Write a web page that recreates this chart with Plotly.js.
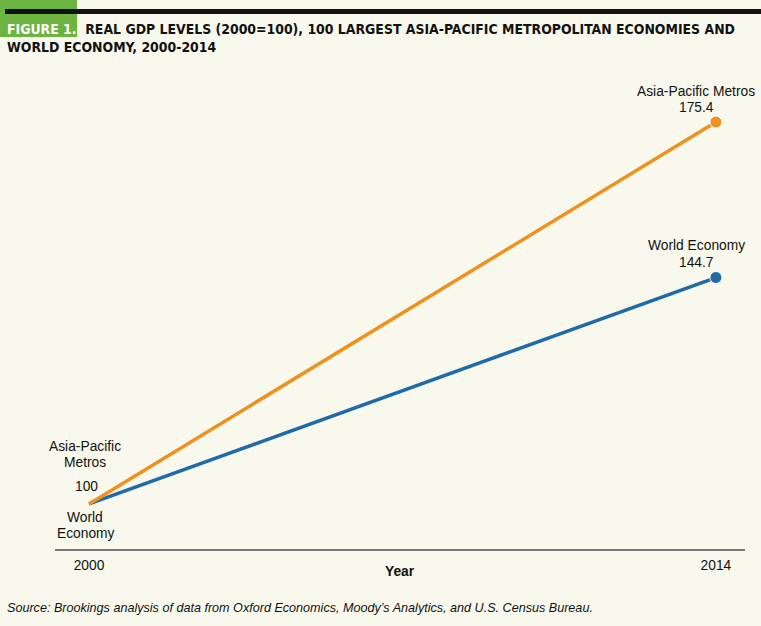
<!DOCTYPE html>
<html><head><meta charset="utf-8">
<script src="https://cdn.plot.ly/plotly-3.0.1.min.js"></script>
<style>body{margin:0;background:#f8f9ec}</style>
</head><body>
<div id="chart" style="width:761px;height:626px"></div>
<script>
const years = [2000, 2014];
const asiaPacific = [100, 175.4];
const world = [100, 144.7];
const tickVals = [2000, 2014];
const tickText = ["2000", "2014"];

const W = 761, H = 626, M = {l:55, r:16, t:80, b:77};
const pw = W - M.l - M.r, ph = H - M.t - M.b;
const px = x => (x - M.l) / pw;
const py = y => (H - M.b - y) / ph;
const bg = '#f8f9ec';
const orange = '#f0901e', blue = '#1f6aa8';

const traces = [
  {x: years, y: world, mode: 'lines+markers', line:{color: blue, width:3.5},
   marker:{size:[0,12], color: blue, opacity:1}, hoverinfo:'skip', cliponaxis:false},
  {x: years, y: asiaPacific, mode: 'lines+markers', line:{color: orange, width:3.5},
   marker:{size:[0,12], color: orange, opacity:1}, hoverinfo:'skip', cliponaxis:false}
];

const fnt = {family:'Liberation Sans, Arial, sans-serif', size:13.8, color:'#111'};
const ann = (x, y, text, extra) => Object.assign({xref:'paper', yref:'paper', x:px(x), y:py(y), text, showarrow:false,
  xanchor:'center', yanchor:'middle', font:fnt}, extra || {});
const tfont = {family:'DejaVu Sans Condensed, Liberation Sans Narrow, sans-serif', size:13.9, weight:700, color:'#111'};

const layout = {
  width: W, height: H, margin: M,
  paper_bgcolor: bg, plot_bgcolor: bg,
  showlegend: false,
  xaxis: {range:[1999.24, 2014.65], tickvals: tickVals, ticktext: tickText, showgrid:false, zeroline:false,
    showline:true, linecolor:'#777', linewidth:2, ticks:'', tickfont:fnt, ticklabelstandoff:2},
  yaxis: {range:[91.1, 183.7], showgrid:false, zeroline:false, showticklabels:false, showline:false},
  shapes: [
    {type:'rect', xref:'paper', yref:'paper', x0:px(0), x1:px(77), y0:py(37), y1:py(0),
     fillcolor:'#6cb33f', line:{width:0}, layer:'below'},
    {type:'rect', xref:'paper', yref:'paper', x0:px(5), x1:px(761), y0:py(14), y1:py(9),
     fillcolor:'#111', line:{width:0}}
  ],
  annotations: [
    ann(5, 29, "<span style='color:#ffffff'>FIGURE 1.</span>  REAL GDP LEVELS (2000=100), 100 LARGEST ASIA-PACIFIC METROPOLITAN ECONOMIES AND", {xanchor:'left', font:tfont}),
    ann(5, 47, "WORLD ECONOMY, 2000-2014", {xanchor:'left', font:tfont}),
    ann(696, 91, 'Asia-Pacific Metros'),
    ann(696, 108, '175.4'),
    ann(696, 245, 'World Economy'),
    ann(696, 262, '144.7'),
    ann(85, 446, 'Asia-Pacific'),
    ann(85, 462, 'Metros'),
    ann(86, 486, '100'),
    ann(85, 517, 'World'),
    ann(86, 533, 'Economy'),
    ann(400, 571, '<b>Year</b>'),
    ann(5, 608, '<i>Source: Brookings analysis of data from Oxford Economics, Moody’s Analytics, and U.S. Census Bureau.</i>',
      {xanchor:'left', font:{family:'Liberation Sans, Arial, sans-serif', size:12.6, color:'#111'}})
  ]
};

Plotly.newPlot('chart', traces, layout, {displayModeBar:false, staticPlot:true});
</script>
</body></html>
